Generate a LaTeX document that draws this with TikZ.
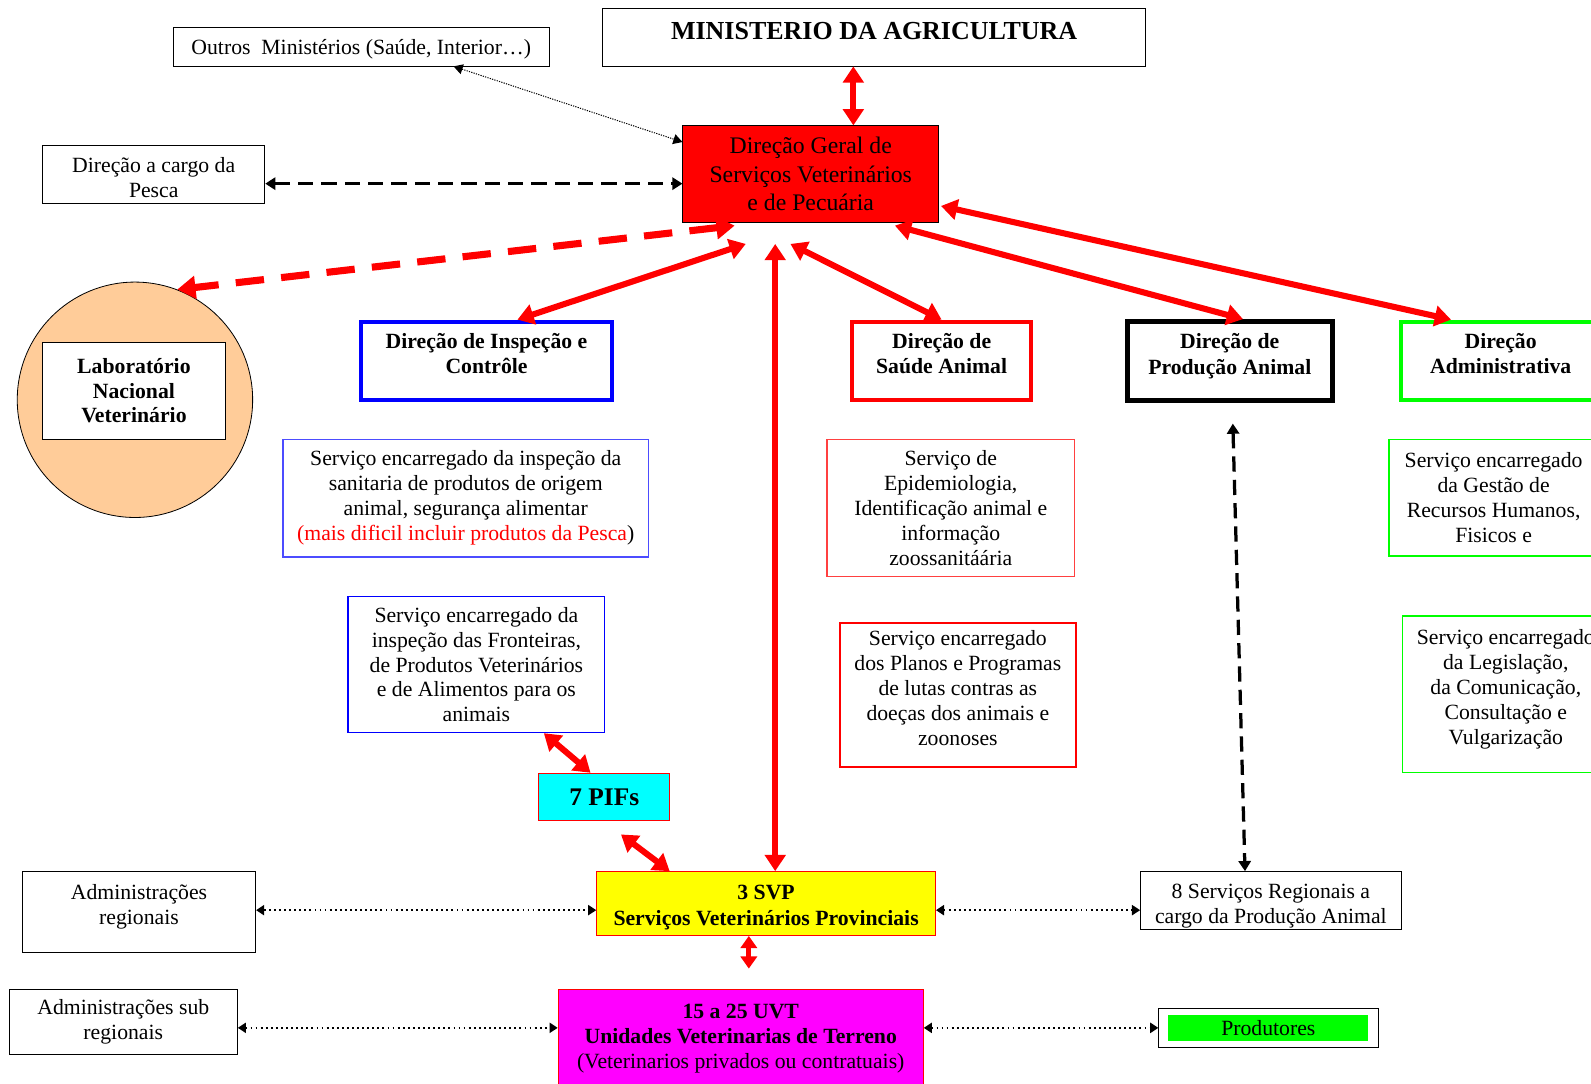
\documentclass[tikz,border=0pt]{standalone}
\usepackage{fontspec}
\setmainfont{Liberation Serif}
\usetikzlibrary{arrows.meta,calc,positioning}
\definecolor{peach}{RGB}{255,204,153}
\definecolor{aqua}{RGB}{0,255,255}
\definecolor{fuchsia}{RGB}{255,0,255}
\definecolor{lime}{RGB}{0,255,0}
\definecolor{pureyellow}{RGB}{255,255,0}

\begin{document}
\begin{tikzpicture}[x=0.5pt,y=-0.5pt,
	box/.style={draw,rectangle,inner sep=0pt,align=center,font=\fontsize{10.7}{12.3}\selectfont},
	dirbox/.style={box,line width=2pt,text depth=7pt,font=\bfseries\fontsize{10.7}{12.5}\selectfont},
	redarr/.style={red,line width=3pt,{Triangle[length=8pt,width=10pt]}-{Triangle[length=8pt,width=10pt]}},
	smallarr/.style={red,line width=2.5pt,{Triangle[length=6pt,width=8pt]}-{Triangle[length=6pt,width=8pt]}},
	reddash/.style={red,line width=3.5pt,dash pattern=on 14pt off 8.5pt,{Triangle[length=9pt,width=11pt]}-{Triangle[length=9pt,width=11pt]}},
	blkdash/.style={line width=1.6pt,dash pattern=on 7.5pt off 4pt,{Triangle[length=5pt,width=6pt]}-{Triangle[length=5pt,width=6pt]}},
	dotarr/.style={line width=0.9pt,dash pattern=on 0.9pt off 1.6pt,{Triangle[length=4pt,width=5pt]}-{Triangle[length=4pt,width=5pt]}},
	thindot/.style={line width=0.5pt,dash pattern=on 0.6pt off 0.6pt,{Triangle[length=4.5pt,width=5pt]}-{Triangle[length=4.5pt,width=5pt]}}]
	\clip (0,0) rectangle (1568,1068);

	% top
	\node[box,minimum width=267.5pt,minimum height=28.5pt,text depth=6pt,font=\bfseries\fontsize{12.8}{15}\selectfont] (min) at (861.5,36.5) {MINISTERIO DA AGRICULTURA};
	\node[box,minimum width=185pt,minimum height=19pt,text height=10pt] (outros) at (356,46) {Outros\ \ Ministérios (Saúde, Interior…)};
	\node[box,fill=red,minimum width=126pt,minimum height=47.5pt,font=\fontsize{11.7}{14}\selectfont] (dg) at (799,171.5) {Direção Geral de\\Serviços Veterinários\\e de Pecuária};
	\node[box,minimum width=109.5pt,minimum height=28.5pt] (pesca) at (151.5,171.5) {\rule{0pt}{11pt}Direção a cargo da\\Pesca};
	\node[draw,circle,fill=peach,minimum size=116pt,inner sep=0pt] (labcirc) at (133,394) {};
	\node[box,fill=white,minimum width=90pt,minimum height=48pt,font=\bfseries\fontsize{10.7}{12.3}\selectfont] (lab) at (132,385) {Laboratório\\Nacional\\Veterinário};

	% direcoes
	\node[dirbox,draw=blue,minimum width=123.5pt,minimum height=38.5pt] (insp) at (479.5,355.5) {Direção de Inspeção e\\Contrôle};
	\node[dirbox,draw=red,minimum width=88pt,minimum height=38.5pt] (saude) at (928,355.5) {Direção de\\Saúde Animal};
	\node[dirbox,draw=black,line width=2.5pt,minimum width=101pt,minimum height=39pt] (prod) at (1212,356) {Direção de\\Produção Animal};
	\node[dirbox,draw=lime,minimum width=98pt,minimum height=38.5pt] (adm) at (1479,355.5) {Direção\\Administrativa};

	% servicos
	\node[box,draw=blue!70,line width=0.6pt,minimum width=180pt,minimum height=58pt] (inspA) at (459,491)
		{Serviço encarregado da inspeção da\\sanitaria de produtos de origem\\animal, segurança alimentar\\\textcolor{red}{(mais dificil incluir produtos da Pesca})};
	\node[box,draw=blue,line width=0.6pt,minimum width=126.5pt,minimum height=67pt] (inspB) at (469.5,655)
		{Serviço encarregado da\\inspeção das Fronteiras,\\de Produtos Veterinários\\e de Alimentos para os\\animais};
	\node[box,draw=red!75,line width=0.6pt,minimum width=122pt,minimum height=67.5pt] (saudeA) at (937,500.5)
		{Serviço de\\Epidemiologia,\\Identificação animal e\\informação\\zoossanitáária};
	\node[box,draw=red,line width=1pt,minimum width=116pt,minimum height=71pt,text depth=7pt] (saudeB) at (944,685)
		{Serviço encarregado\\dos Planos e Programas\\de lutas contras as\\doeças dos animais e\\zoonoses};
	\node[box,draw=lime,line width=0.6pt,minimum width=103pt,minimum height=57.5pt] (admA) at (1472,490.5)
		{Serviço encarregado\\da Gestão de\\Recursos Humanos,\\Fisicos e};
	\node[box,draw=lime,line width=0.6pt,minimum width=102pt,minimum height=77pt,text depth=7pt] (admB) at (1484,684)
		{Serviço encarregado\\da Legislação,\\da Comunicação,\\Consultação e\\Vulgarização};

	% niveis inferiores
	\node[box,draw=red,fill=aqua,minimum width=64.5pt,minimum height=23.5pt,font=\bfseries\fontsize{12.5}{15}\selectfont] (pifs) at (595.5,785.5) {7 PIFs};
	\node[box,draw=red,fill=pureyellow,minimum width=167pt,minimum height=31.5pt,font=\bfseries\fontsize{10.7}{13}\selectfont] (svp) at (755,890.5) {\rule{0pt}{11pt}3 SVP\\Serviços Veterinários Provinciais};
	\node[box,draw=red,fill=fuchsia,minimum width=180pt,minimum height=48.5pt] (uvt) at (730,1023.5)
		{\textbf{15 a 25 UVT}\\\textbf{Unidades Veterinarias de Terreno}\\(Veterinarios privados ou contratuais)};
	\node[box,minimum width=115pt,minimum height=40pt,text depth=8pt] (admreg) at (137,899) {Administrações\\regionais};
	\node[box,minimum width=112.5pt,minimum height=32pt] (admsub) at (121.5,1007) {Administrações sub\\regionais};
	\node[box,minimum width=128.5pt,minimum height=28.5pt] (serv8) at (1252.5,887.5) {\rule{0pt}{13pt}8 Serviços Regionais a\\cargo da Produção Animal};
	\node[box,minimum width=108pt,minimum height=19pt] (prodt) at (1250,1013) {};
	\node[box,draw=none,fill=lime,minimum width=98.5pt,minimum height=12.5pt] (prodtin) at (prodt) {Produtores};

	% ligacoes
	\draw[redarr] ([xshift=-10.25pt]min.south) -- ([xshift=21pt]dg.north);
	\draw[thindot] ([xshift=45.5pt]outros.south) -- ([yshift=15.75pt]dg.west);
	\draw[blkdash] ([yshift=-4.75pt]pesca.east) -- ([yshift=-4.75pt]dg.west);
	\draw[reddash] ([xshift=-37.5pt,yshift=-1.5pt]dg.south) -- (labcirc.69);
	\draw[redarr] ([xshift=-32pt,yshift=-10.5pt]dg.south) -- ([xshift=15.25pt]insp.north);
	\draw[redarr] ([xshift=-17.5pt,yshift=-10.5pt]dg.south) -- ([xshift=4.5pt]svp.north);
	\draw[redarr] ([xshift=-10pt,yshift=-10.5pt]dg.south) -- (saude.north);
	\draw[redarr] ([xshift=41.5pt,yshift=-1.5pt]dg.south) -- ([xshift=6.5pt]prod.north);
	\draw[redarr] ([xshift=1pt,yshift=-15.75pt]dg.east) -- ([xshift=-24.5pt]adm.north);
	\draw[redarr] ([xshift=33.25pt]inspB.south) -- ([xshift=-6.75pt]pifs.north);
	\draw[redarr] ([xshift=8.25pt,yshift=-6.5pt]pifs.south) -- ([xshift=-47.5pt]svp.north);
	\draw[smallarr] ([xshift=-8.5pt]svp.south) -- ([xshift=4pt,yshift=10pt]uvt.north);
	\draw[blkdash] ([xshift=1.5pt,yshift=-10pt]prod.south) -- ([xshift=-12.75pt]serv8.north);
	\draw[dotarr] ([yshift=1pt]admreg.east) -- ([yshift=-3.25pt]svp.west);
	\draw[dotarr] ([yshift=-3.25pt]svp.east) -- ([yshift=-4.75pt]serv8.west);
	\draw[dotarr] ([yshift=-3pt]admsub.east) -- ([yshift=5.25pt]uvt.west);
	\draw[dotarr] ([yshift=5.25pt]uvt.east) -- (prodt.west);
\end{tikzpicture}
\end{document}
